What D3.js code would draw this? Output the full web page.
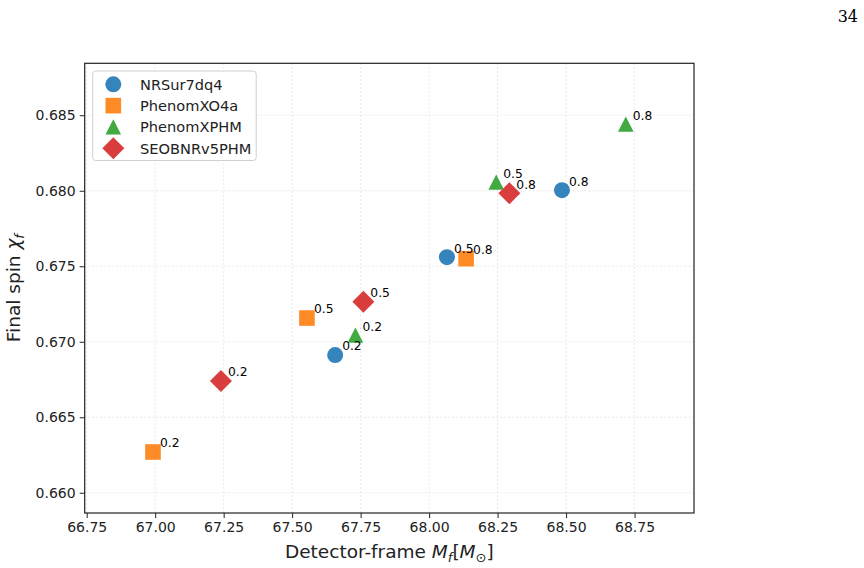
<!DOCTYPE html>
<html>
<head>
<meta charset="utf-8">
<script src="https://cdn.jsdelivr.net/npm/d3@7"></script>
<style>
  body { margin: 0; background: #fff; }
  svg { font-family: "DejaVu Sans", sans-serif; }
</style>
</head>
<body>
<svg id="chart"></svg>
<script>
var width = 864;
var height = 568;

// data
var models = ["NRSur7dq4", "PhenomXO4a", "PhenomXPHM", "SEOBNRv5PHM"];
var colors = ["#3584bc", "#ff8b26", "#41aa41", "#da3d3e"];
var shapes = ["circle", "square", "triangle", "diamond"];
var spinLabels = ["0.2", "0.5", "0.8"];

var massNRSur = [67.657, 68.065, 68.485];
var spinNRSur = [0.66912, 0.67560, 0.68004];
var massXO4a = [66.992, 67.554, 68.135];
var spinXO4a = [0.66270, 0.67157, 0.67550];
var massXPHM = [67.731, 68.245, 68.718];
var spinXPHM = [0.67043, 0.68056, 0.68440];
var massSEOB = [67.240, 67.760, 68.293];
var spinSEOB = [0.66740, 0.67265, 0.67983];

var xTicks = [66.75, 67.00, 67.25, 67.50, 67.75, 68.00, 68.25, 68.50, 68.75];
var yTicks = [0.660, 0.665, 0.670, 0.675, 0.680, 0.685];

var allMass = [massNRSur, massXO4a, massXPHM, massSEOB];
var allSpin = [spinNRSur, spinXO4a, spinXPHM, spinSEOB];

var points = [];
models.forEach(function(m, i) {
    allMass[i].forEach(function(v, j) {
        points.push({model: i, mass: v, spin: allSpin[i][j], label: spinLabels[j]});
    });
});

var margin = {left: 84.7, right: 864 - 694, top: 63.3, bottom: 568 - 513};

var svg = d3.select("#chart")
    .attr("width", width)
    .attr("height", height);

var x = d3.scaleLinear()
    .domain([66.7427, 68.967])
    .range([margin.left, width - margin.right]);
var y = d3.scaleLinear()
    .domain([0.65866, 0.68844])
    .range([height - margin.bottom, margin.top]);

// marker path for each shape, centred on 0,0
function markerPath(shape) {
    if (shape == "circle") {
        return "M8,0A8,8 0 1,1 -8,0A8,8 0 1,1 8,0Z";
    }
    if (shape == "square") {
        return "M-7.8,-7.8H7.8V7.8H-7.8Z";
    }
    if (shape == "triangle") {
        return "M0,-7.8L7.8,7.5L-7.8,7.5Z";
    }
    return "M0,-11L11,0L0,11L-11,0Z";
}

// grid
var grid = svg.append("g").attr("class", "grid");
grid.selectAll("line.gx")
    .data(xTicks)
    .enter().append("line")
    .attr("x1", function(d) { return x(d); })
    .attr("x2", function(d) { return x(d); })
    .attr("y1", y.range()[1])
    .attr("y2", y.range()[0])
    .attr("stroke", "#dcdcdc")
    .attr("stroke-width", 0.8)
    .attr("stroke-dasharray", "1.5,2.5");
grid.selectAll("line.gy")
    .data(yTicks)
    .enter().append("line")
    .attr("y1", function(d) { return y(d); })
    .attr("y2", function(d) { return y(d); })
    .attr("x1", x.range()[0])
    .attr("x2", x.range()[1])
    .attr("stroke", "#dcdcdc")
    .attr("stroke-width", 0.8)
    .attr("stroke-dasharray", "1.5,2.5");

// axes
var xAxis = svg.append("g")
    .attr("transform", "translate(0," + (height - margin.bottom) + ")")
    .call(d3.axisBottom(x).tickValues(xTicks).tickFormat(d3.format(".2f")).tickSize(5).tickPadding(4));
var yAxis = svg.append("g")
    .attr("transform", "translate(" + margin.left + ",0)")
    .call(d3.axisLeft(y).tickValues(yTicks).tickFormat(d3.format(".3f")).tickSize(5).tickPadding(4));

[xAxis, yAxis].forEach(function(a) {
    a.select(".domain").remove();
    a.selectAll("text").attr("font-size", 14).attr("fill", "#222").attr("font-family", "DejaVu Sans");
    a.selectAll("line").attr("stroke", "#222").attr("stroke-width", 1);
});

// frame
svg.append("rect")
    .attr("x", margin.left)
    .attr("y", margin.top)
    .attr("width", width - margin.right - margin.left)
    .attr("height", height - margin.bottom - margin.top)
    .attr("fill", "none")
    .attr("stroke", "#222")
    .attr("stroke-width", 1.2);

// points
svg.append("g")
    .selectAll("path")
    .data(points)
    .enter().append("path")
    .attr("d", function(d) { return markerPath(shapes[d.model]); })
    .attr("transform", function(d) { return "translate(" + x(d.mass) + "," + y(d.spin) + ")"; })
    .attr("fill", function(d) { return colors[d.model]; });

// point labels
svg.append("g")
    .selectAll("text")
    .data(points)
    .enter().append("text")
    .attr("x", function(d) { return x(d.mass) + 7; })
    .attr("y", function(d) { return y(d.spin) - 4.6; })
    .attr("font-size", 12.3)
    .attr("fill", "#000")
    .text(function(d) { return d.label; });

// legend
var legend = svg.append("g");
legend.append("rect")
    .attr("x", 92.7)
    .attr("y", 71)
    .attr("width", 163.5)
    .attr("height", 89.5)
    .attr("rx", 3)
    .attr("fill", "#fff")
    .attr("fill-opacity", 0.85)
    .attr("stroke", "#d0d0d0")
    .attr("stroke-width", 1);
var rows = legend.selectAll("g.row")
    .data(models)
    .enter().append("g")
    .attr("transform", function(d, i) { return "translate(113.3," + (84.3 + i * 21.35) + ")"; });
rows.append("path")
    .attr("d", function(d, i) { return markerPath(shapes[i]); })
    .attr("fill", function(d, i) { return colors[i]; });
rows.append("text")
    .attr("x", 26.7)
    .attr("y", 5.2)
    .attr("font-size", 14.6)
    .attr("fill", "#222")
    .text(function(d) { return d; });

// axis titles
var xt = svg.append("text")
    .attr("x", (margin.left + width - margin.right) / 2)
    .attr("y", 558)
    .attr("text-anchor", "middle")
    .attr("font-size", 18.5)
    .attr("fill", "#222");
xt.append("tspan").text("Detector-frame ");
xt.append("tspan").attr("font-style", "italic").text("M");
xt.append("tspan").attr("font-style", "italic").attr("font-size", 13).attr("dy", 4).text("f");
xt.append("tspan").attr("dy", -4).text("[");
xt.append("tspan").attr("font-style", "italic").text("M");
xt.append("tspan").attr("font-size", 13).attr("dy", 4).text("\u2299");
xt.append("tspan").attr("dy", -4).text("]");

var yt = svg.append("text")
    .attr("transform", "translate(20," + ((margin.top + height - margin.bottom) / 2) + ") rotate(-90)")
    .attr("text-anchor", "middle")
    .attr("font-size", 18.5)
    .attr("fill", "#222");
yt.append("tspan").text("Final spin ");
yt.append("tspan").attr("font-style", "italic").text("\u03c7");
yt.append("tspan").attr("font-style", "italic").attr("font-size", 13).attr("dy", 4).text("f");

// page number
svg.append("text")
    .attr("x", 858)
    .attr("y", 22)
    .attr("text-anchor", "end")
    .attr("font-family", "DejaVu Serif, serif")
    .attr("font-size", 16)
    .attr("fill", "#000")
    .text("34");
</script>
</body>
</html>
